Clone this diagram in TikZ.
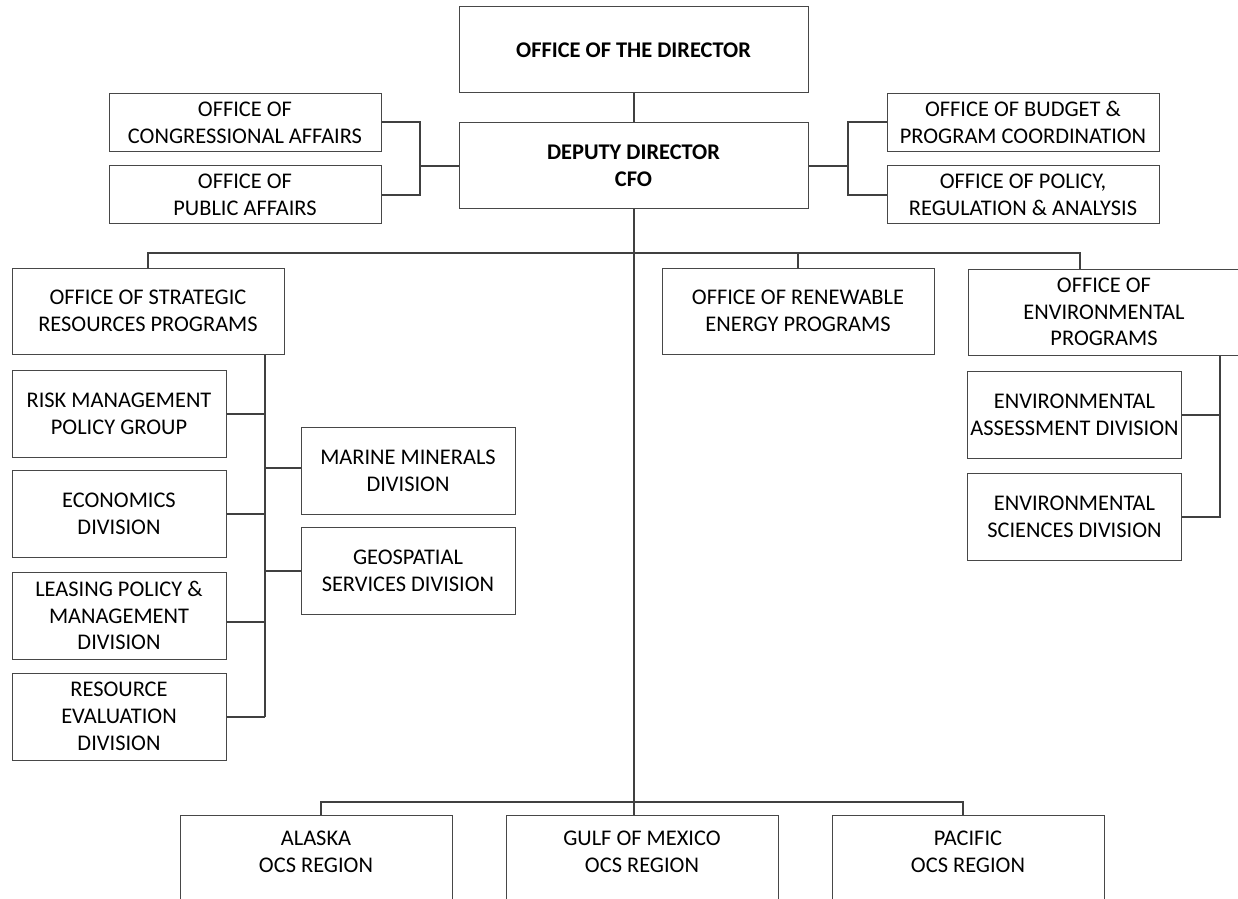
\documentclass[tikz,border=0pt]{standalone}
\usepackage{fontspec}
\setmainfont{Carlito}
\usetikzlibrary{calc}

\begin{document}
\begin{tikzpicture}[x=0.5pt,y=-0.5pt,
  box/.style={draw=black!72,line width=0.5pt,rectangle,inner sep=0pt,align=center,
    font=\fontsize{11.2}{13.4}\selectfont},
  headbox/.style={box,minimum width=174.5pt,minimum height=43pt,
    font=\fontsize{11.2}{13.4}\selectfont\bfseries},
  staffbox/.style={box,minimum width=136pt,minimum height=29pt},
  officebox/.style={box,minimum width=136pt,minimum height=43pt},
  divbox/.style={box,minimum width=107pt,minimum height=43.5pt},
  regionbox/.style={box,minimum width=136pt,minimum height=45pt},
  regiontext/.style={align=center,inner sep=0pt,yshift=4pt,
    font=\fontsize{11.2}{13.4}\selectfont},
  link/.style={draw=black!75,line width=1pt}]

\useasboundingbox (0,0) rectangle (1238,899);
\clip (0,0) rectangle (1238,899);

% top of the chart
\node[headbox] (dir) at (633.5,50) {OFFICE OF THE DIRECTOR};
\node[headbox] (dep) at (633.5,166) {DEPUTY DIRECTOR\\CFO};

\node[staffbox] (cong) at (245,122.5) {OFFICE OF\\CONGRESSIONAL AFFAIRS};
\node[staffbox] (pub) at (245,195) {OFFICE OF\\PUBLIC AFFAIRS};
\node[staffbox] (budget) at (1023,122.5) {OFFICE OF BUDGET \&\\PROGRAM COORDINATION};
\node[staffbox] (policy) at (1023,195) {OFFICE OF POLICY,\\REGULATION \& ANALYSIS};

% program offices
\node[officebox] (strat) at (148,311) {OFFICE OF STRATEGIC\\RESOURCES PROGRAMS};
\node[officebox] (renew) at (798,311) {OFFICE OF RENEWABLE\\ENERGY PROGRAMS};
\node[officebox] (env) at (1104,312) {OFFICE OF\\ENVIRONMENTAL\\PROGRAMS};

% divisions
\node[divbox] (risk) at (119,413.5) {RISK MANAGEMENT\\POLICY GROUP};
\node[divbox] (econ) at (119,513.5) {ECONOMICS\\DIVISION};
\node[divbox] (lease) at (119,615.5) {LEASING POLICY \&\\MANAGEMENT\\DIVISION};
\node[divbox] (reseval) at (119,716.5) {RESOURCE\\EVALUATION\\DIVISION};
\node[divbox] (marine) at (408,471) {MARINE MINERALS\\DIVISION};
\node[divbox] (geo) at (408,571) {GEOSPATIAL\\SERVICES DIVISION};
\node[divbox] (assess) at (1074.5,415) {ENVIRONMENTAL\\ASSESSMENT DIVISION};
\node[divbox] (sci) at (1074.5,516.5) {ENVIRONMENTAL\\SCIENCES DIVISION};

% regions
\node[regionbox,label={[regiontext]center:ALASKA\\OCS REGION}] (alaska) at (316,860) {};
\node[regionbox,label={[regiontext]center:GULF OF MEXICO\\OCS REGION}] (gulf) at (642,860) {};
\node[regionbox,label={[regiontext]center:PACIFIC\\OCS REGION}] (pacific) at (968,860) {};

\coordinate (lspine) at (420,0);
\coordinate (rspine) at (848,0);
\coordinate (topbus) at (0,253);
\coordinate (lowbus) at (0,802);
\coordinate (sspine) at (265,0);
\coordinate (espine) at (1220,0);
\coordinate (envtap) at ([xshift=-12pt]env.north);
\coordinate (aktap) at ([xshift=2.5pt]alaska.north);
\coordinate (pactap) at ([xshift=-2.5pt]pacific.north);

% connectors
\draw[link] (dir) -- (dep);
\draw[link] (cong.east) -| (lspine |- pub.east) -- (pub.east);
\draw[link] (lspine |- dep.west) -- (dep.west);
\draw[link] (budget.west) -| (rspine |- policy.west) -- (policy.west);
\draw[link] (rspine |- dep.east) -- (dep.east);

\draw[link] (dep.south) -- (dep.south |- gulf.north);
\draw[link] (strat.north) |- (topbus -| envtap) -- (envtap);
\draw[link] (renew.north) -- (renew.north |- topbus);
\draw[link] (aktap) |- (lowbus -| pactap) -- (pactap);

\draw[link] (sspine |- strat.south) -- (sspine |- reseval.east);
\draw[link] (risk.east) -- (risk.east -| sspine);
\draw[link] (econ.east) -- (econ.east -| sspine);
\draw[link] ([yshift=-3pt]lease.east) -- ([yshift=-3pt]lease.east -| sspine);
\draw[link] (reseval.east) -- (reseval.east -| sspine);
\draw[link] ([yshift=1.5pt]marine.west) -- ([yshift=1.5pt]marine.west -| sspine);
\draw[link] (geo.west) -- (geo.west -| sspine);

\draw[link] (espine |- env.south) -- (espine |- sci.east) -- (sci.east);
\draw[link] (assess.east) -- (assess.east -| espine);

\end{tikzpicture}
\end{document}
